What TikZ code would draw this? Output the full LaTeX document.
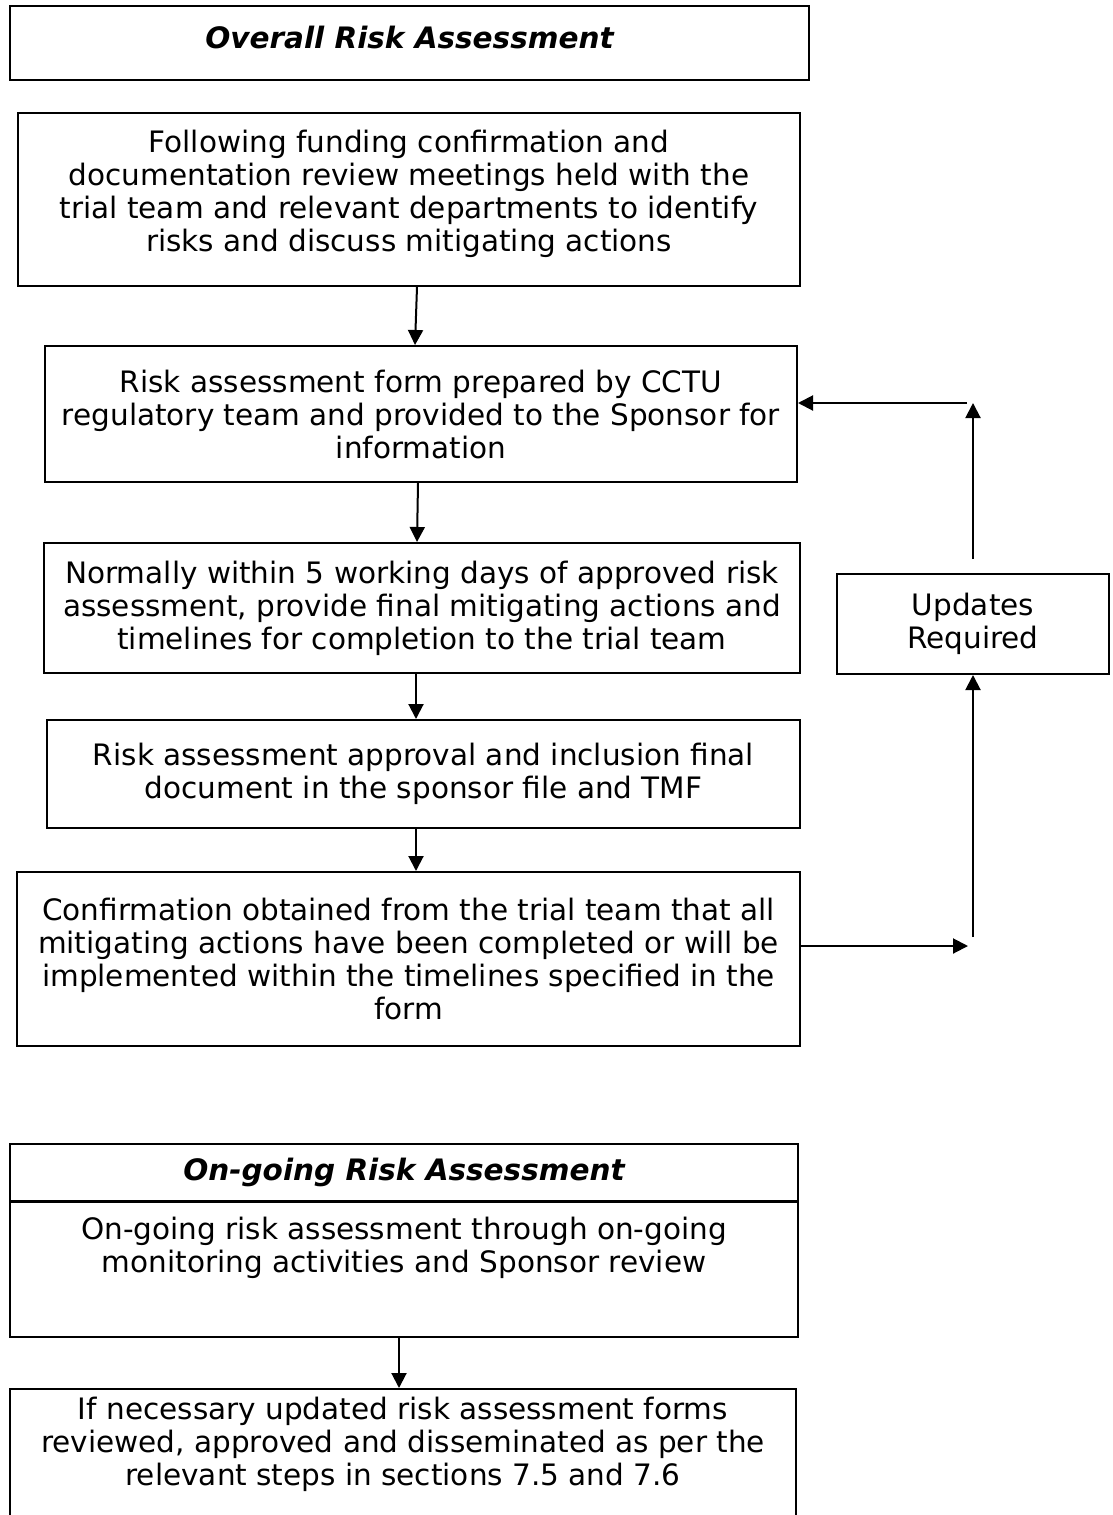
\documentclass[tikz,border=0pt]{standalone}
\usepackage{fontspec}
\setmainfont{DejaVu Sans}
\usetikzlibrary{arrows.meta}
\newcommand{\toptext}[4]{\parbox[c][#1][t]{#2}{\centering\vspace*{#3}#4}}

\begin{document}
\begin{tikzpicture}[x=1pt,y=-1pt,
    box/.style={draw,line width=2pt,align=center,inner sep=0pt,
        font=\fontsize{29.5}{33}\selectfont},
    title/.style={box,font=\fontsize{29.5}{33}\selectfont\bfseries\itshape},
    arr/.style={line width=2pt,-{Triangle[length=15pt,width=15pt]}}]
    \useasboundingbox (0,0) rectangle (1112,1515);
    \clip (0,0) rectangle (1112,1515);
    \node [title,minimum width=799pt,minimum height=74pt,text depth=12pt] (ttl1) at (409.5,43) {Overall Risk Assessment};
    \node [box,minimum width=782pt,minimum height=173pt] (meet) at (409,199.5) {Following funding confirmation and\\documentation review meetings held with the\\trial team and relevant departments to identify\\risks and discuss mitigating actions\rule[-17pt]{0pt}{17pt}};
    \node [box,minimum width=752pt,minimum height=136pt] (form) at (421,414) {Risk assessment form prepared by CCTU\\regulatory team and provided to the Sponsor for\\information};
    \node [box,minimum width=756pt,minimum height=130pt] (days) at (422,608) {Normally within 5 working days of approved risk\\assessment, provide final mitigating actions and\\timelines for completion to the trial team};
    \node [box,minimum width=753pt,minimum height=108pt] (appr) at (423.5,774) {Risk assessment approval and inclusion final\\document in the sponsor file and TMF};
    \node [box,minimum width=783pt,minimum height=174pt] (conf) at (408.5,959) {Confirmation obtained from the trial team that all\\mitigating actions have been completed or will be\\implemented within the timelines specified in the\\form};
    \node [box,minimum width=272pt,minimum height=100pt] (upd) at (973,624) {Updates\\Required};
    \node [title,minimum width=788pt,minimum height=57pt] (ttl2) at (404,1172.5) {On-going Risk Assessment};
    \node [box,anchor=north] (ongo) at (404,1201) {\toptext{135pt}{788pt}{15pt}{On-going risk assessment through on-going\\monitoring activities and Sponsor review}};
    \node [box,anchor=north] (upf) at (403,1388) {\toptext{180pt}{786pt}{8pt}{If necessary updated risk assessment forms\\reviewed, approved and disseminated as per the\\relevant steps in sections 7.5 and 7.6}};

    \coordinate (c1) at (968,946);
    \coordinate (c2) at (973,937);
    \coordinate (c4) at (973,403);
    \coordinate (c5) at (967,403);

    \draw [arr] ([xshift=8pt]meet.south) -- ([xshift=-6pt]form.north);
    \draw [arr] ([xshift=-3pt]form.south) -- ([xshift=-5pt]days.north);
    \draw [arr] ([xshift=-6pt]days.south) -- ([xshift=-7.5pt]appr.north);
    \draw [arr] ([xshift=-7.5pt]appr.south) -- ([xshift=7.5pt]conf.north);
    \draw [arr] ([yshift=13pt]conf.east) -- (c1);
    \draw [arr] (c2) -- (upd.south);
    \draw [arr] ([yshift=14pt]upd.north) -- (c4);
    \draw [arr] (c5) -- ([yshift=11pt]form.east);
    \draw [arr] ([xshift=-5pt]ongo.south) -- ([xshift=-4pt]upf.north);
\end{tikzpicture}
\end{document}
